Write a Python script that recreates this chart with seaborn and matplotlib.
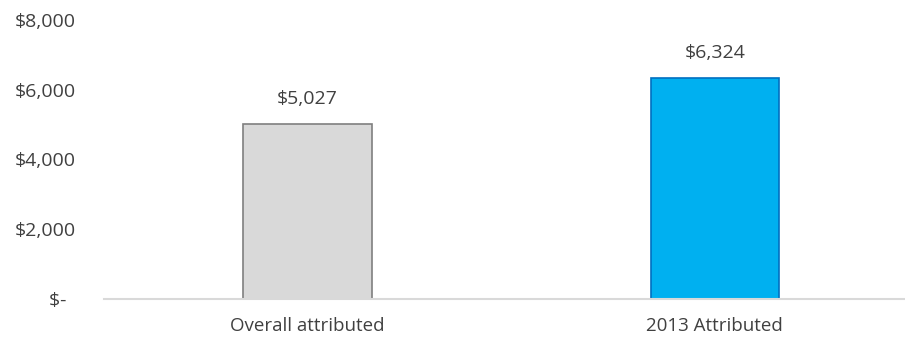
import matplotlib
matplotlib.use("Agg")
import matplotlib.pyplot as plt
import seaborn as sns
import pandas as pd

categories = ["Overall attributed", "2013 Attributed"]
values = [5027, 6324]
bar_colors = ["#d9d9d9", "#00b0f0"]
edge_colors = ["#7f7f7f", "#0070c0"]
y_ticks = [0, 2000, 4000, 6000, 8000]
y_tick_labels = ["$-  ", "$2,000", "$4,000", "$6,000", "$8,000"]

sns.set_theme(style="white")
plt.rcParams["font.family"] = ["Open Sans", "DejaVu Sans"]
text_color = "#404040"

df = pd.DataFrame({"category": categories, "value": values})

fig = plt.figure(figsize=(9.05, 3.37), dpi=100)
ax = fig.add_axes([104 / 905, 1 - 299 / 337, 1 - 104 / 905, (299 - 20) / 337])

sns.barplot(data=df, x="category", y="value", hue="category",
            palette=bar_colors, saturation=1, width=0.315, legend=False,
            ax=ax, linewidth=1.2)
for patch, ec in zip(ax.patches, edge_colors):
    patch.set_edgecolor(ec)

for i, v in enumerate(values):
    ax.annotate(f"${v:,}", xy=(i, v), xytext=(0, 11.5), textcoords="offset points",
                ha="center", va="bottom", fontsize=14, color=text_color)

ax.set_xlim(-0.5, 1.467)
ax.set_ylim(0, 8000)
ax.set_yticks(y_ticks)
ax.set_yticklabels(y_tick_labels)
ax.set_xlabel("")
ax.set_ylabel("")
ax.tick_params(axis="y", length=0, pad=20, labelsize=14, labelcolor=text_color)
ax.tick_params(axis="x", length=0, pad=13, labelsize=13.5, labelcolor=text_color)

for side in ["left", "right", "top"]:
    ax.spines[side].set_visible(False)
ax.spines["bottom"].set_color("#d9d9d9")
ax.spines["bottom"].set_linewidth(1.5)
ax.grid(False)

fig.savefig("out.png", dpi=100)
